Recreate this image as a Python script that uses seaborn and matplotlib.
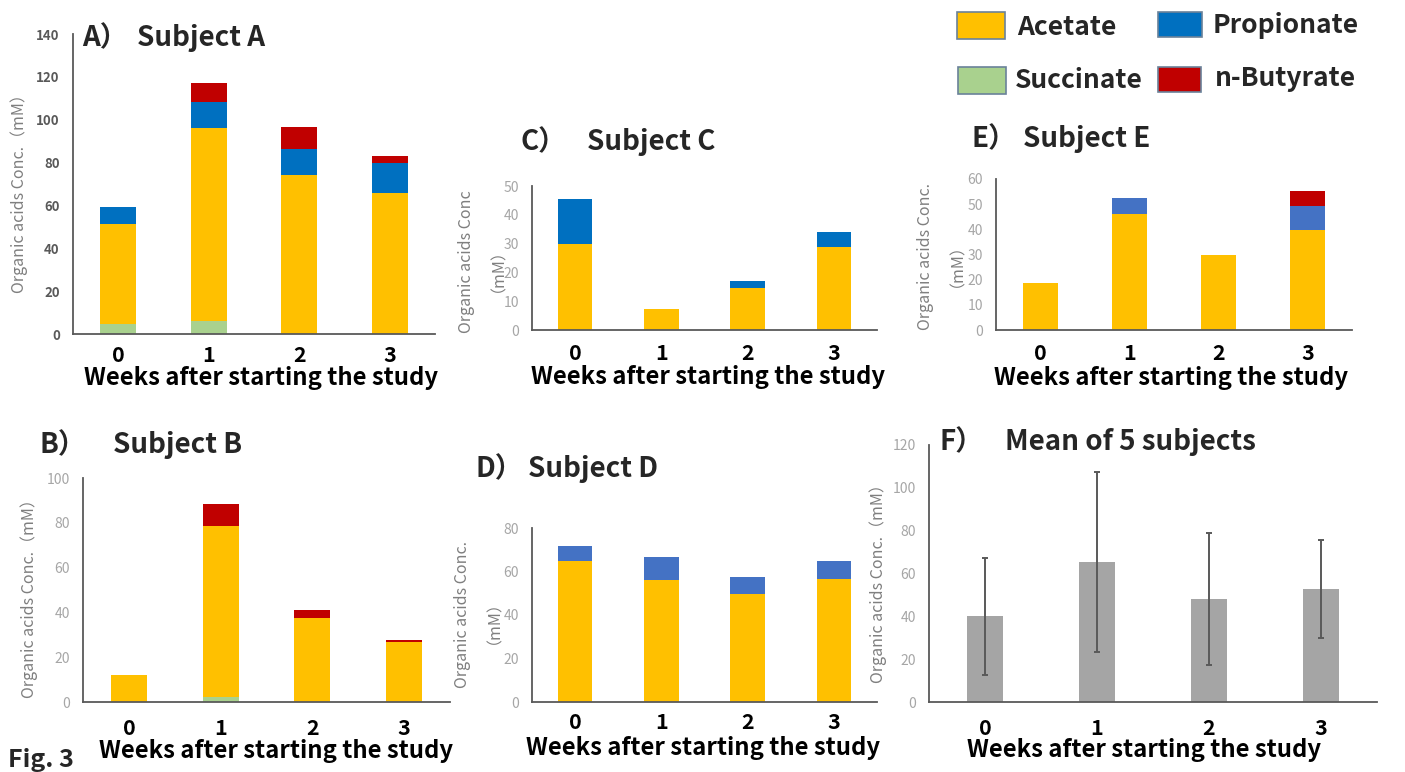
import numpy as np
import matplotlib
matplotlib.use("Agg")
import matplotlib.pyplot as plt
import seaborn as sns
from matplotlib.patches import Rectangle

# ---- data (mM) ----
weeks = ["0", "1", "2", "3"]
acid_names = ["Acetate", "Propionate", "Succinate", "n-Butyrate"]

# Subject A
a_succinate = [4.5, 6.0, 0.0, 0.0]
a_acetate = [47.0, 90.0, 74.3, 66.0]
a_propionate = [8.0, 12.5, 12.0, 14.0]
a_butyrate = [0.0, 8.5, 10.3, 3.3]

# Subject B
b_succinate = [0.0, 2.2, 0.0, 0.0]
b_acetate = [12.2, 76.2, 37.6, 26.6]
b_propionate = [0.0, 0.0, 0.0, 0.0]
b_butyrate = [0.0, 10.0, 3.6, 1.2]

# Subject C
c_succinate = [0.0, 0.0, 0.0, 0.0]
c_acetate = [30.0, 7.2, 14.7, 28.9]
c_propionate = [15.6, 0.0, 2.2, 5.1]
c_butyrate = [0.0, 0.0, 0.0, 0.0]

# Subject D
d_succinate = [0.0, 0.0, 0.0, 0.0]
d_acetate = [64.9, 56.2, 49.5, 56.5]
d_propionate = [6.6, 10.4, 8.0, 8.1]
d_butyrate = [0.0, 0.0, 0.0, 0.0]

# Subject E
e_succinate = [0.0, 0.0, 0.0, 0.0]
e_acetate = [18.6, 46.2, 29.7, 39.7]
e_propionate = [0.0, 6.1, 0.3, 9.4]
e_butyrate = [0.0, 0.0, 0.0, 6.3]

# Mean of 5 subjects (total organic acids) and SD
f_mean = [40.0, 65.5, 48.3, 52.8]
f_sd = [27.3, 42.0, 30.8, 22.7]

# ---- style ----
C_ACE = "#FFC000"
C_PRO = "#0070C0"
C_PRO2 = "#4472C4"
C_SUC = "#A9D18E"
C_BUT = "#C00000"
C_GRAY = "#A5A5A5"
AX_COL = "#595959"

sns.set_theme(style="white")
FONT = ["Noto Sans CJK JP", "DejaVu Sans"]
plt.rcParams["font.family"] = FONT

W, H = 1405, 772
fig = plt.figure(figsize=(W / 100, H / 100), dpi=100)
fig.patch.set_facecolor("white")


def fx(x):
    return x / W


def fy(y):
    return 1 - y / H


def panel(x0, x1, ytop, ybot):
    return fig.add_axes([fx(x0), fy(ybot), (x1 - x0) / W, (ybot - ytop) / H])


def stacked(ax, succ, ace, pro, but, pro_color, width=0.4):
    # cumulative heights, bottom layer first; draw tallest first so lower layers sit on top
    layers = np.cumsum(np.array([succ, ace, pro, but]), axis=0)
    colors = [C_SUC, C_ACE, pro_color, C_BUT]
    for top, col in reversed(list(zip(layers, colors))):
        sns.barplot(x=weeks, y=top, order=weeks, color=col, width=width,
                    saturation=1, linewidth=0, ax=ax)


def style_axes(ax, ymax, step, tick_pad, ytick_size=10, ytick_col="#A6A6A6",
               ytick_bold=False):
    ax.set_ylim(0, ymax)
    ax.set_xlim(-0.5, 3.5)
    ax.set_yticks(np.arange(0, ymax + 0.1, step))
    for s in ("top", "right"):
        ax.spines[s].set_visible(False)
    for s in ("left", "bottom"):
        ax.spines[s].set_color(AX_COL)
        ax.spines[s].set_linewidth(1.3)
    ax.tick_params(axis="both", length=0)
    ax.tick_params(axis="y", labelsize=ytick_size, labelcolor=ytick_col, pad=9.5)
    ax.tick_params(axis="x", labelsize=15.5, labelcolor="black", pad=tick_pad)
    ax.set_xticks(range(4))
    ax.set_xticklabels(weeks, fontweight="bold")
    if ytick_bold:
        for t in ax.get_yticklabels():
            t.set_fontweight("bold")
    ax.set_facecolor("white")


def labels(ax, ylab, ycx, ycy, xcx, xbase, ysize=11.5):
    ax.set_ylabel(ylab, fontsize=ysize, color="#7F7F7F", linespacing=1.45,
                  multialignment="center")
    ax.yaxis.set_label_coords(fx(ycx), fy(ycy), transform=fig.transFigure)
    ax.yaxis.label.set_va("center")
    ax.set_xlabel("Weeks after starting the study", fontsize=17.2,
                  fontweight="bold", color="black")
    ax.xaxis.set_label_coords(fx(xcx), fy(xbase), transform=fig.transFigure)
    ax.xaxis.label.set_va("baseline")


def title(letter, lx, text, tx, base):
    fig.text(fx(lx), fy(base), letter, fontsize=20, fontweight="bold",
             va="baseline", ha="left")
    fig.text(fx(tx), fy(base), text, fontsize=20, fontweight="bold",
             va="baseline", ha="left")


YL1 = "Organic acids Conc.（mM）"

# A
axA = panel(73, 435, 34, 334)
stacked(axA, a_succinate, a_acetate, a_propionate, a_butyrate, C_PRO)
style_axes(axA, 140, 20, 7.9, ytick_size=9.5, ytick_col=AX_COL, ytick_bold=True)
labels(axA, YL1, 19, 190, 261, 385)
title("A）", 82, "Subject A", 137, 46)

# B
axB = panel(83, 450, 478, 702)
stacked(axB, b_succinate, b_acetate, b_propionate, b_butyrate, C_PRO, width=0.39)
style_axes(axB, 100, 20, 11.5)
labels(axB, YL1, 29, 595, 276, 758)
title("B）", 40, "Subject B", 113, 453)

# C
axC = panel(532, 877, 186, 330)
stacked(axC, c_succinate, c_acetate, c_propionate, c_butyrate, C_PRO)
style_axes(axC, 50, 10, 9.4)
labels(axC, "Organic acids Conc\n（mM）", 478, 262, 708, 384)
title("C）", 520, "Subject C", 587, 150)

# D
axD = panel(532, 877, 528, 702)
stacked(axD, d_succinate, d_acetate, d_propionate, d_butyrate, C_PRO2)
style_axes(axD, 80, 20, 7.2)
labels(axD, "Organic acids Conc.\n（mM）", 474, 614, 703, 755)
title("D）", 475, "Subject D", 528, 477)

# E
axE = panel(996, 1352, 179, 330)
stacked(axE, e_succinate, e_acetate, e_propionate, e_butyrate, C_PRO2)
style_axes(axE, 60, 10, 9.4)
labels(axE, "Organic acids Conc.\n（mM）", 937, 257, 1171, 385)
title("E）", 972, "Subject E", 1023, 147)

# F
axF = panel(929, 1377, 445, 702)
sns.barplot(x=weeks, y=f_mean, order=weeks, color=C_GRAY, width=0.32,
            saturation=1, linewidth=0, ax=axF)
axF.errorbar(range(4), f_mean, yerr=f_sd, fmt="none", ecolor=AX_COL,
             elinewidth=1.4, capsize=2.5, capthick=1.4)
style_axes(axF, 120, 20, 11.5)
labels(axF, YL1, 878, 580, 1144, 757)
title("F）", 940, "Mean of 5 subjects", 1005, 450)

# legend
legend_items = [
    ("Acetate", C_ACE, (957, 12, 1005, 39), (1017, 35)),
    ("Propionate", C_PRO, (1158, 12, 1202, 37), (1213, 33)),
    ("Succinate", C_SUC, (958, 67, 1006, 94), (1015, 88)),
    ("n-Butyrate", C_BUT, (1158, 67, 1201, 92), (1215, 86)),
]
for name, col, (x0, y0, x1, y1), (tx, tb) in legend_items:
    fig.patches.append(Rectangle((fx(x0), fy(y1)), (x1 - x0) / W, (y1 - y0) / H,
                                 transform=fig.transFigure, facecolor=col,
                                 edgecolor="#6A8299", linewidth=1.2))
    fig.text(fx(tx), fy(tb), name, fontsize=19, fontweight="bold",
             va="baseline", ha="left")

fig.text(fx(8), fy(767), "Fig. 3", fontsize=18, fontweight="bold",
         va="baseline", ha="left")

fig.savefig("out.png", dpi=100, facecolor="white")
